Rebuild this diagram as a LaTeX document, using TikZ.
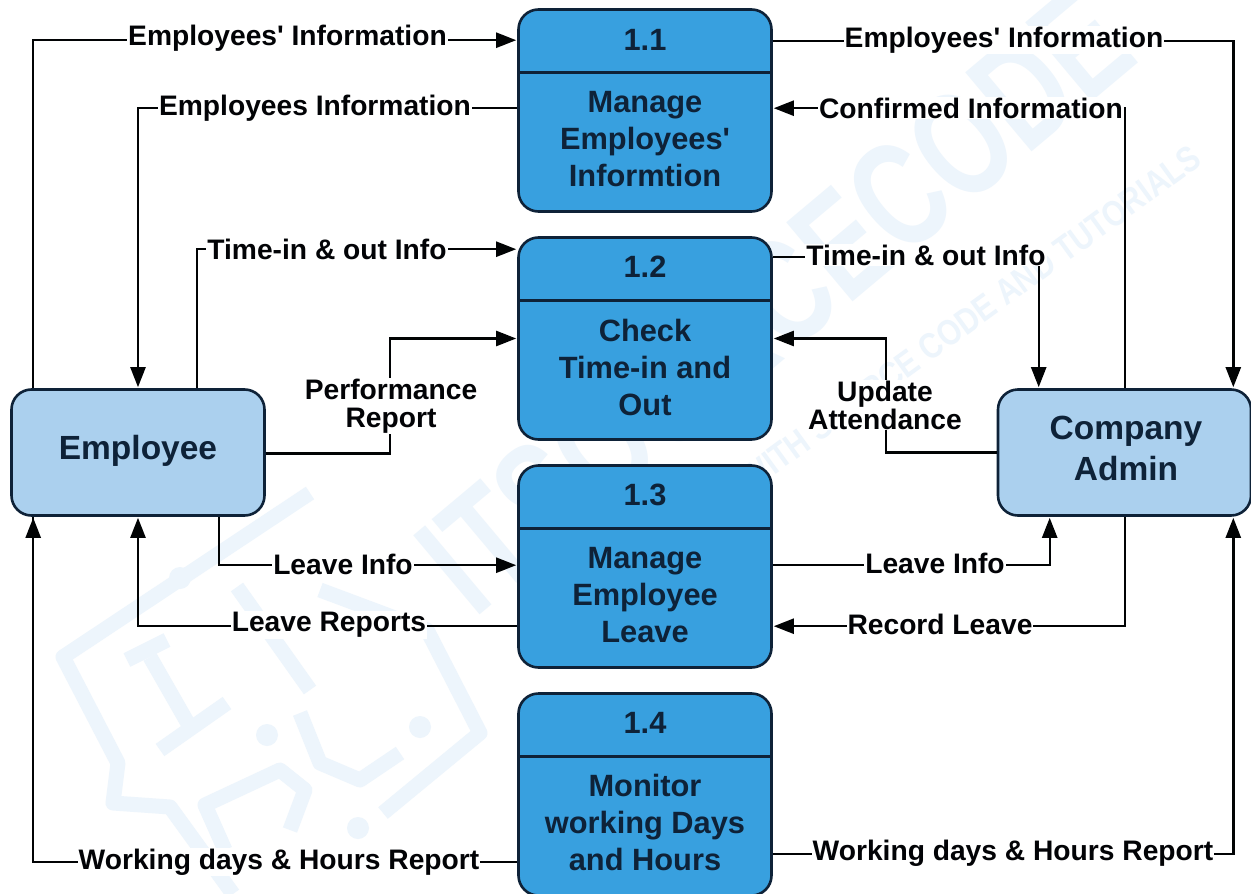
\documentclass[tikz,border=0pt]{standalone}
\usepackage{fontspec}
\setmainfont{Liberation Sans}
\usetikzlibrary{arrows.meta}
\definecolor{procblue}{HTML}{38A0DF}
\definecolor{extblue}{HTML}{ABD0EE}
\definecolor{edge}{HTML}{0E2238}
\definecolor{wm}{HTML}{EDF5FC}
\newcommand{\apos}{\textquotesingle}
\tikzset{
  x=1pt,y=-1pt,
  procbox/.style={draw=edge,fill=procblue,line width=2.6pt,rounded corners=20pt,minimum width=253pt,minimum height=202pt,inner sep=0pt},
  extbox/.style={draw=edge,fill=extblue,line width=2.6pt,rounded corners=20pt,minimum width=253pt,minimum height=126pt,inner sep=0pt},
  divider/.style={draw=edge,line width=2.6pt},
  boxtext/.style={font=\fontsize{30.8}{37}\selectfont\bfseries,text=edge,align=center,inner sep=0pt},
  exttext/.style={font=\fontsize{33.5}{41}\selectfont\bfseries,text=edge,align=center,inner sep=0pt},
  lab/.style={font=\fontsize{28.2}{28}\selectfont\bfseries,text=black!90!edge,align=center,fill=white,inner sep=1pt},
  flow/.style={draw=black!92!edge,line width=2.4pt},
  flowa/.style={flow,-{Triangle[length=20pt,width=15pt]},shorten >=1pt},
  watermark/.style={font=\fontsize{150}{150}\selectfont\bfseries,text=wm,inner sep=0pt},
  wmtag/.style={font=\fontsize{36}{36}\selectfont\bfseries,text=wm,inner sep=0pt},
  wmline/.style={draw=wm,line width=15pt,line join=round,line cap=butt}
}
\begin{document}
\begin{tikzpicture}
\useasboundingbox (0,0) rectangle (1251,894);
\fill[white] (0,0) rectangle (1251,894);
% watermark text
\node[watermark,rotate=40] (wmark) at (775,300) {\scalebox{0.72}[1]{ITSOURCECODE}};
\node[wmtag,rotate=36] (wtag) at (970,318) {\scalebox{0.83}[1]{WITH SOURCE CODE AND TUTORIALS}};
% watermark logo
\draw[wmline] (310,493) -- (63,657) -- (118,763) -- (113,803) -- (170,807) -- (233,894);
\draw[wmline] (320,590) -- (427,630) -- (480,733) -- (383,813);
\draw[wmline] (300,713) -- (320,763) -- (360,780) -- (400,753);
\draw[wmline] (127,660) -- (167,640);
\draw[wmline] (150,657) -- (190,727);
\draw[wmline] (160,750) -- (227,703);
\draw[wmline] (290,830) -- (305,790) -- (280,770) -- (205,805) -- (225,850);
\draw[wmline] (237,587) -- (310,690);
\fill[wm] (267,735) circle (11pt) (420,727) circle (11pt) (180,578) circle (11pt) (358,828) circle (11pt);
% boxes
\node[procbox] (p1) at (645,110.5) {};
\node[procbox] (p2) at (645,338.5) {};
\node[procbox] (p3) at (645,566.5) {};
\node[procbox] (p4) at (645,794.5) {};
\node[extbox] (emp) at (138,452.5) {};
\node[extbox] (adm) at (1124.5,452.5) {};
\foreach \b in {p1,p2,p3,p4}{
  \draw[divider] ([yshift=-64pt]\b.north west) -- ([yshift=-64pt]\b.north east);
}
\node[boxtext] (t1) at (645,40) {1.1};
\node[boxtext] (d1) at (645,139) {Manage\\Employees\apos\\Informtion};
\node[boxtext] (t2) at (645,267) {1.2};
\node[boxtext] (d2) at (645,367) {Check\\Time-in and\\Out};
\node[boxtext] (t3) at (645,495) {1.3};
\node[boxtext] (d3) at (645,595) {Manage\\Employee\\Leave};
\node[boxtext] (t4) at (645,723) {1.4};
\node[boxtext] (d4) at (645,822) {Monitor\\working Days\\and Hours};
\node[exttext] (te) at (138,451) {Employee};
\node[exttext] (ta) at (1126,448) {Company\\Admin};
% connectors: employee side
\draw[flowa] ([xshift=23pt]emp.north west) |- ([yshift=-32pt]p1.north west);
\draw[flowa] ([yshift=-100pt]p1.north west) -| (emp.north);
\draw[flowa] ([xshift=187pt]emp.north west) |- ([yshift=-13pt]p2.north west);
\draw[flowa] ([yshift=-1pt]emp.east) -| ([xshift=-127pt,yshift=-1pt]p2.west) |- (p2.west);
\draw[flowa] ([xshift=209pt]emp.south west) |- ([yshift=-101pt]p3.north west);
\draw[flowa] ([yshift=-162pt]p3.north west) -| (emp.south);
\draw[flow] ([yshift=-170pt]p4.north west) -| ([xshift=23pt]emp.south west);
\draw[flowa] ([yshift=-170pt,xshift=-484pt]p4.north west) -- ([xshift=23pt]emp.south west);
% connectors: admin side
\draw[flowa] ([yshift=-33pt]p1.north east) -| ([xshift=-19pt]adm.north east);
\draw[flowa] ([xshift=128pt]adm.north west) |- ([yshift=-100pt]p1.north east);
\draw[flowa] ([yshift=-21pt]p2.north east) -| ([xshift=42pt]adm.north west);
\draw[flowa] (adm.west) -| ([xshift=113pt]p2.east) |- (p2.east);
\draw[flowa] ([yshift=-101pt]p3.north east) -| ([xshift=53pt]adm.south west);
\draw[flowa] ([xshift=128pt]adm.south west) |- ([yshift=-162pt]p3.north east);
\draw[flowa] ([yshift=-162pt]p4.north east) -| ([xshift=-19pt]adm.south east);
% labels
\node[lab] (l1) at (287.5,38) {Employees\apos{} Information};
\node[lab] (l2) at (315,108) {Employees Information};
\node[lab] (l3) at (327,249) {Time-in \& out Info};
\node[lab] (l4) at (391,406) {Performance\\Report};
\node[lab] (l5) at (343,564) {Leave Info};
\node[lab] (l6) at (329,625) {Leave Reports};
\node[lab] (l7) at (279,862) {Working days \& Hours Report};
\node[lab] (l8) at (1004,40) {Employees\apos{} Information};
\node[lab] (l9) at (971,108) {Confirmed Information};
\node[lab] (l10) at (926,255) {Time-in \& out Info};
\node[lab] (l11) at (885,405) {Update\\Attendance};
\node[lab] (l12) at (935,563) {Leave Info};
\node[lab] (l13) at (940,624) {Record Leave};
\node[lab] (l14) at (1013,853) {Working days \& Hours Report};
\end{tikzpicture}
\end{document}
